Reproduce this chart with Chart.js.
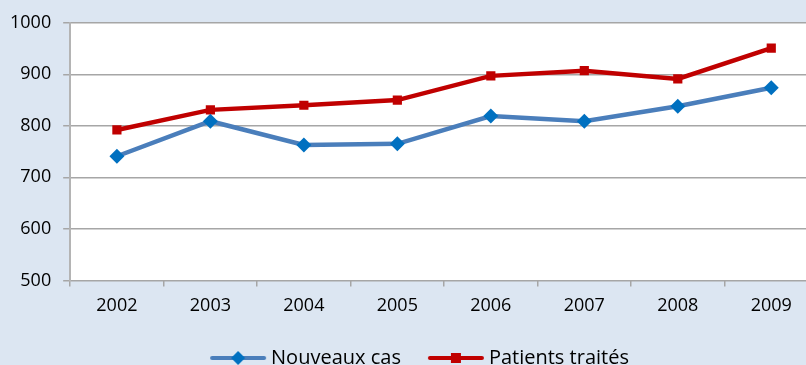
<!DOCTYPE html>
<html>
<head>
<meta charset="utf-8">
<script src="https://cdn.jsdelivr.net/npm/chart.js@4"></script>
<style>
  html, body { margin: 0; padding: 0; background: #dce6f2; overflow: hidden; }
  #wrap { width: 830px; height: 378px; margin-left: 3px; }
</style>
</head>
<body>
<div id="wrap"><canvas id="courbe"></canvas></div>
<script>
// données
const annees = ['2002', '2003', '2004', '2005', '2006', '2007', '2008', '2009'];
const nouveauxCas = [741, 809, 763, 765, 819, 809, 838, 874];
const patientsTraites = [792, 831, 840, 850, 897, 907, 891, 951];
const graduationsY = [500, 600, 700, 800, 900, 1000];

const BLEU_LIGNE = '#4a7ebb';
const BLEU_POINT = '#0070c0';
const ROUGE = '#c00000';

// petit dessin ligne + marqueur pour la légende (décalé à droite pour coller au texte)
function iconeLegende(couleurLigne, couleurPoint, forme) {
  const c = document.createElement('canvas');
  c.width = 70; c.height = 16;
  const g = c.getContext('2d');
  g.strokeStyle = couleurLigne;
  g.lineWidth = 4;
  g.lineCap = 'round';
  g.beginPath(); g.moveTo(14, 8); g.lineTo(66, 8); g.stroke();
  g.fillStyle = couleurPoint;
  if (forme === 'losange') {
    g.beginPath(); g.moveTo(40, 1); g.lineTo(47, 8); g.lineTo(40, 15); g.lineTo(33, 8); g.closePath(); g.fill();
  } else {
    g.fillRect(35, 3, 10, 10);
  }
  return c;
}

// fond blanc de la zone de tracé
const fondZone = {
  id: 'fondZone',
  beforeDraw(chart) {
    const { ctx, chartArea: a } = chart;
    ctx.save();
    ctx.fillStyle = '#ffffff';
    ctx.fillRect(a.left, a.top, a.right - a.left, a.bottom - a.top);
    ctx.restore();
  }
};

// légende un peu plus à droite
const decaleLegende = {
  id: 'decaleLegende',
  afterLayout(chart) {
    chart.legend.left += 9;
    chart.legend.right += 9;
  }
};

Chart.defaults.font.family = '"Open Sans", sans-serif';
Chart.defaults.color = '#000000';

new Chart(document.getElementById('courbe'), {
  type: 'line',
  data: {
    labels: annees,
    datasets: [
      {
        label: 'Nouveaux cas',
        data: nouveauxCas,
        borderColor: BLEU_LIGNE,
        backgroundColor: BLEU_POINT,
        borderWidth: 4.5,
        pointStyle: 'rectRot',
        pointRadius: 7.5,
        pointBorderWidth: 0,
        tension: 0
      },
      {
        label: 'Patients traités',
        data: patientsTraites,
        borderColor: ROUGE,
        backgroundColor: ROUGE,
        borderWidth: 4.5,
        pointStyle: 'rect',
        pointRadius: 6.5,
        pointBorderWidth: 0,
        tension: 0
      }
    ]
  },
  options: {
    responsive: true,
    maintainAspectRatio: false,
    animation: false,
    layout: { padding: { top: 14, left: -5, right: 15, bottom: 0 } },
    plugins: {
      tooltip: { enabled: false },
      legend: {
        position: 'bottom',
        labels: {
          usePointStyle: true,
          pointStyleWidth: 56,
          font: { size: 20 },
          padding: 22,
          generateLabels(chart) {
            return [
              { text: 'Nouveaux cas', pointStyle: iconeLegende(BLEU_LIGNE, BLEU_POINT, 'losange'), datasetIndex: 0, fontColor: '#000', lineWidth: 0, strokeStyle: 'transparent', fillStyle: 'transparent' },
              { text: 'Patients traités', pointStyle: iconeLegende(ROUGE, ROUGE, 'carre'), datasetIndex: 1, fontColor: '#000', lineWidth: 0, strokeStyle: 'transparent', fillStyle: 'transparent' }
            ];
          }
        }
      }
    },
    scales: {
      x: {
        offset: true,
        grid: { offset: true, drawOnChartArea: false, drawTicks: true, tickLength: 6, color: '#a6a6a6', lineWidth: 1.5 },
        border: { display: false },
        ticks: { font: { size: 18 }, padding: 9 }
      },
      y: {
        min: 500,
        max: 1000,
        afterBuildTicks(axis) { axis.ticks = graduationsY.map(v => ({ value: v })); },
        grid: { color: '#a6a6a6', lineWidth: 1.5, tickLength: 7 },
        border: { display: true, color: '#b4b4b4', width: 2 },
        ticks: { font: { size: 18 }, padding: 12, callback: v => String(v) }
      }
    }
  },
  plugins: [fondZone, decaleLegende]
});
</script>
</body>
</html>
